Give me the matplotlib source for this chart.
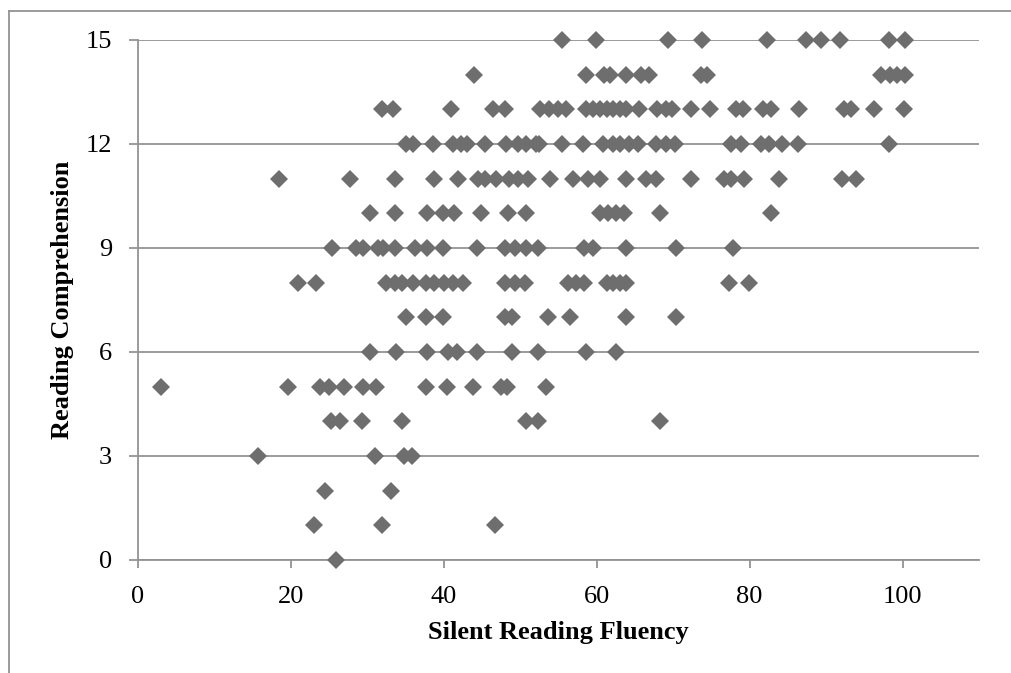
import matplotlib
matplotlib.use("Agg")
import matplotlib.pyplot as plt
from matplotlib.lines import Line2D
import numpy as np

# silent reading fluency values, grouped by reading comprehension score
scores = [15, 14, 13, 12, 11, 10, 9, 8, 7, 6, 5, 4, 3, 2, 1, 0]
fluency_15 = [55.5, 59.9, 69.4, 73.8, 82.3, 87.4, 89.3, 91.8, 98.2, 100.3]
fluency_14 = [44.0, 58.6, 61.0, 61.8, 63.9, 65.8, 66.9, 73.7, 74.5, 97.2, 98.3, 99.3, 100.3]
fluency_13 = [31.9, 33.4, 41.0, 46.5, 48.0, 52.6, 53.8, 54.9, 56.0, 58.6, 59.5, 60.4,
              61.3, 62.1, 63.0, 63.9, 65.6, 67.9, 69.1, 69.9, 72.3, 74.8, 78.2, 79.1,
              81.7, 82.8, 86.4, 92.3, 93.3, 96.3, 100.2]
fluency_12 = [35.1, 36.0, 38.6, 41.2, 42.3, 43.0, 45.4, 48.2, 49.7, 50.8, 52.1, 52.5,
              55.5, 58.2, 60.8, 62.1, 63.0, 64.3, 65.4, 67.8, 69.1, 70.2, 77.6, 78.9,
              81.5, 82.6, 84.3, 86.3, 98.2]
fluency_11 = [18.5, 27.7, 33.6, 38.7, 41.9, 44.5, 45.4, 46.9, 48.6, 49.7, 51.0, 53.9,
              56.9, 58.9, 60.4, 63.9, 66.5, 67.8, 72.3, 76.7, 77.6, 79.3, 83.9, 92.1, 93.9]
fluency_10 = [30.4, 33.6, 37.8, 39.9, 41.4, 44.9, 48.4, 50.8, 60.4, 61.5, 62.6, 63.6, 68.3, 82.8]
fluency_9 = [25.4, 28.6, 29.5, 31.4, 32.1, 33.6, 36.2, 37.8, 39.9, 44.4, 48.0, 49.3,
             50.8, 52.3, 58.4, 59.5, 63.9, 70.4, 77.8]
fluency_8 = [21.0, 23.3, 32.5, 33.6, 34.5, 36.0, 37.7, 38.8, 40.1, 41.2, 42.5, 48.0,
             49.3, 50.6, 56.2, 57.3, 58.4, 61.3, 62.1, 63.0, 63.9, 77.3, 79.9]
fluency_7 = [35.1, 37.7, 39.9, 48.0, 48.9, 53.6, 56.5, 63.9, 70.4]
fluency_6 = [30.4, 33.8, 37.8, 40.6, 41.7, 44.3, 49.0, 52.3, 58.6, 62.6]
fluency_5 = [3.0, 19.7, 23.8, 25.0, 27.0, 29.5, 31.2, 37.7, 40.4, 43.9, 47.5, 48.3, 53.4]
fluency_4 = [25.3, 26.4, 29.3, 34.5, 50.8, 52.3, 68.3]
fluency_3 = [15.7, 31.0, 34.8, 35.9]
fluency_2 = [24.5, 33.1]
fluency_1 = [23.0, 32.0, 46.7]
fluency_0 = [25.9]

groups = [fluency_15, fluency_14, fluency_13, fluency_12, fluency_11, fluency_10,
          fluency_9, fluency_8, fluency_7, fluency_6, fluency_5, fluency_4,
          fluency_3, fluency_2, fluency_1, fluency_0]

x_ticks = [0, 20, 40, 60, 80, 100]
y_ticks = [0, 3, 6, 9, 12, 15]

x = np.concatenate([np.array(g, dtype=float) for g in groups])
y = np.concatenate([np.full(len(g), s, dtype=float) for g, s in zip(groups, scores)])

plt.rcParams['font.family'] = ['Liberation Serif', 'DejaVu Serif']

grey_line = '#939393'
fig = plt.figure(figsize=(10.12, 6.73), dpi=100)
ax = fig.add_axes([137.7 / 1012, 1 - 560 / 673, (979 - 137.7) / 1012, 520 / 673])

ax.plot(x, y, linestyle='none', marker='D', markersize=9, color='#6e6e6e',
        markeredgewidth=0, clip_on=False, zorder=3)

ax.set_xlim(0, 110)
ax.set_ylim(0, 15)
ax.set_xticks(x_ticks)
ax.set_yticks(y_ticks)
ax.yaxis.grid(True, color=grey_line, linewidth=1.3)
ax.set_axisbelow(True)

for side in ['top', 'right']:
    ax.spines[side].set_visible(False)
for side in ['left', 'bottom']:
    ax.spines[side].set_color(grey_line)
    ax.spines[side].set_linewidth(1.3)

ax.tick_params(axis='x', direction='out', length=6, width=1.3, color=grey_line,
               labelsize=19, pad=13)
ax.tick_params(axis='y', direction='out', length=6.5, width=1.3, color=grey_line,
               labelsize=19, pad=12)

ax.set_xlabel('Silent Reading Fluency', fontsize=19, fontweight='bold', va='center')
ax.xaxis.set_label_coords(0.5, (560 - 633) / 520)
ax.set_ylabel('Reading Comprehension', fontsize=19, fontweight='bold', va='center')
ax.yaxis.set_label_coords((62 - 137.7) / 841.3, 0.5)

# chart border (left and top edges visible)
fig.add_artist(Line2D([9 / 1012, 9 / 1012], [0, 1 - 11 / 673], transform=fig.transFigure,
                      color=grey_line, linewidth=1.3))
fig.add_artist(Line2D([9 / 1012, 1], [1 - 11 / 673, 1 - 11 / 673], transform=fig.transFigure,
                      color=grey_line, linewidth=1.3))

fig.savefig('out.png', dpi=100)
